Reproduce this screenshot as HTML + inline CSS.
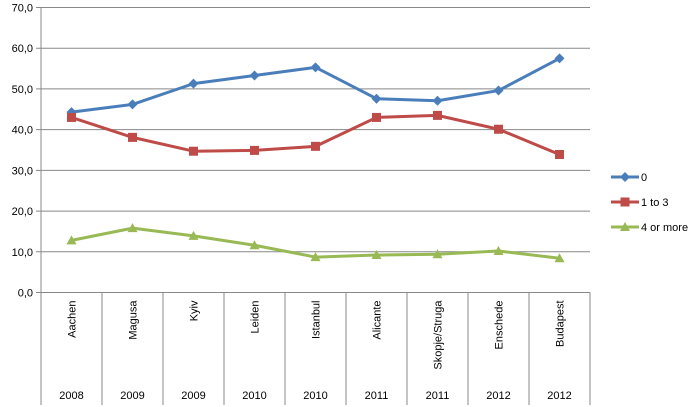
<!DOCTYPE html>
<html><head><meta charset="utf-8"><style>
body{margin:0;background:#fff;}
svg{display:block;font-family:"Liberation Sans",sans-serif;}
</style></head><body>
<svg id="chart" width="699" height="407" viewBox="0 0 699 407"></svg>
<script>
const categories=["Aachen","Magusa","Kyiv","Leiden","Istanbul","Alicante","Skopje/Struga","Enschede","Budapest"];
const years=["2008","2009","2009","2010","2010","2011","2011","2012","2012"];
const seriesNames=["0","1 to 3","4 or more"];
const s0=[44.3,46.2,51.3,53.3,55.3,47.6,47.1,49.6,57.5];
const s1=[43.0,38.1,34.7,34.9,35.9,43.0,43.5,40.1,33.9];
const s2=[12.8,15.8,13.9,11.6,8.7,9.2,9.4,10.2,8.4];
const yTicks=[0,10,20,30,40,50,60,70];
const colors=["#4a7ebb","#be4b48","#98b954"];
const NS="http://www.w3.org/2000/svg";
const svg=document.getElementById('chart');
const L=41,R=590,T=7.5,B=292.5;
const cw=(R-L)/categories.length;
const x=i=>L+cw*(i+0.5);
const y=v=>B-(B-T)*v/70;
function mk(t,a,p){const e=document.createElementNS(NS,t);for(const k in a)e.setAttribute(k,a[k]);(p||svg).appendChild(e);return e;}
yTicks.forEach(v=>{
  const g=mk('line',{x1:L-5,x2:R,y1:y(v),y2:y(v),stroke:'#888','stroke-width':1});
  
  
  const t=mk('text',{x:L-8,y:y(v)+4,'text-anchor':'end','font-size':11,fill:'#000'});
  t.textContent=v.toFixed(1).replace('.',',');
  
  
});
mk('line',{x1:L,x2:L,y1:T,y2:B,stroke:'#888'});
for(let i=0;i<=categories.length;i++){
  const l=mk('line',{x1:L+cw*i,x2:L+cw*i,y1:B,y2:405,stroke:'#888'});
  
  
}
categories.forEach((c,i)=>{
  const t=mk('text',{x:0,y:0,'text-anchor':'end','font-size':11,transform:`translate(${x(i)+4},${B+8}) rotate(-90)`});
  t.textContent=c;
  
  
  const yt=mk('text',{x:x(i),y:399,'text-anchor':'middle','font-size':11});
  yt.textContent=years[i];
  
  
});
function marker(type,cx,cy,col,p){
  if(type===0)return mk('polygon',{points:`${cx},${cy-5} ${cx+5},${cy} ${cx},${cy+5} ${cx-5},${cy}`,fill:col},p);
  if(type===1)return mk('rect',{x:cx-4.5,y:cy-4.5,width:9,height:9,fill:col},p);
  return mk('polygon',{points:`${cx},${cy-5} ${cx+5},${cy+4} ${cx-5},${cy+4}`,fill:col},p);
}
[s0,s1,s2].forEach((s,k)=>{
  const g=mk('g',{});
  
  
  mk('polyline',{points:s.map((v,i)=>x(i)+','+y(v)).join(' '),fill:'none',stroke:colors[k],'stroke-width':3,'stroke-linejoin':'round'},g);
  s.forEach((v,i)=>{const m=marker(k,x(i),y(v),colors[k],g);
    
    });
  const ly=177+k*25;
  const lg=mk('g',{});
  
  
  mk('line',{x1:611,x2:639,y1:ly,y2:ly,stroke:colors[k],'stroke-width':3},lg);
  marker(k,625,ly,colors[k],lg);
  const t=mk('text',{x:641,y:ly+4,'font-size':11},lg);
  t.textContent=seriesNames[k];
});
</script>
</body></html>
